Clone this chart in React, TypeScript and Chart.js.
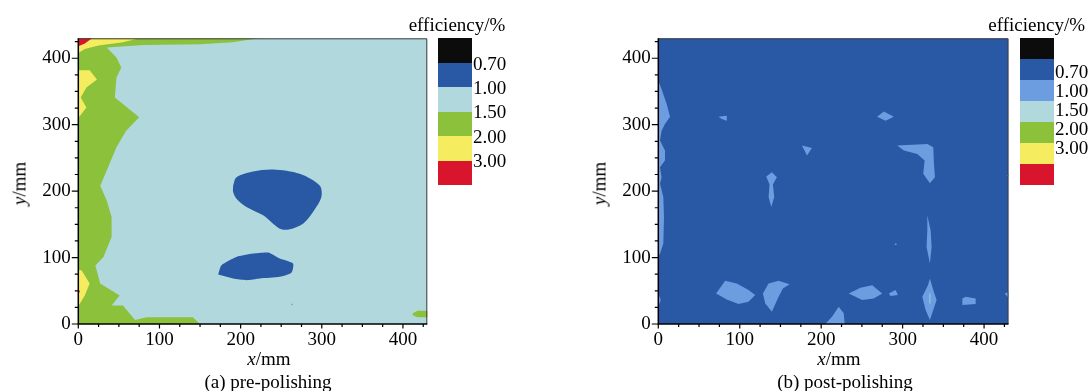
import React, { useEffect, useRef } from "react";
import { Chart, registerables } from "chart.js";

Chart.register(...registerables);

// ---------- axes ----------
const AXIS_MAX = 430;
const TICK_VALUES = [0, 100, 200, 300, 400];
const MINOR_STEP = 25;

// ---------- legend levels ----------
const LEVEL_LABELS = ["0.70", "1.00", "1.50", "2.00", "3.00"];

const C_BLACK = "#0c0c0c";
const C_DARK = "#2958a5";
const C_MED = "#6b9de0";
const C_PALE = "#b1d8dc";
const C_GREEN = "#8bc13b";
const C_YELLOW = "#f5ec60";
const C_RED = "#d8152d";

const LEGEND_A = [C_BLACK, C_DARK, C_PALE, C_GREEN, C_YELLOW, C_RED];
const LEGEND_B = [C_BLACK, C_DARK, C_MED, C_PALE, C_GREEN, C_YELLOW, C_RED];

// ---------- (a) pre-polishing contour regions, [x mm, y mm] ----------
const A_BASE = [[0, 0], [430, 0], [430, 430], [0, 430]];
const A_GREEN_LEFT = [
  [0, 430], [223, 430], [190, 424], [150, 421], [80, 420], [35, 416], [47, 401], [53, 386],
  [47, 371], [45, 341], [75, 311], [59, 291], [47, 266], [35, 231], [27, 208], [35, 186],
  [41, 161], [41, 131], [31, 101], [21, 88], [27, 61], [51, 43], [41, 28], [55, 28],
  [70, 6], [84, 10], [141, 10], [150, 0], [0, 0],
];
const A_GREEN_RIGHT = [[412, 16], [418, 20], [431, 20], [431, 10], [418, 10], [412, 13]];
const A_YELLOW_TOP = [[0, 431], [78, 431], [55, 424], [25, 419], [8, 414], [0, 408]];
const A_YELLOW_MID = [
  [0, 382], [14, 382], [23, 368], [10, 356], [3, 341], [10, 326], [2, 313], [0, 311],
];
const A_YELLOW_LOW = [[0, 81], [4, 81], [14, 61], [8, 43], [2, 31], [0, 28]];
const A_RED_TOP = [[0, 431], [18, 431], [8, 422], [0, 418]];
const A_RED_LOW = [[0, 53], [2, 49], [0, 45]];
const A_BLUE_UPPER = [
  [190.8, 208.5], [194.9, 221], [215.4, 229.5], [240, 232.5], [272.8, 226], [297.4, 208.5],
  [299.5, 191], [289.2, 168.5], [276.9, 151], [260.5, 142.5], [250.3, 142.5], [240, 151],
  [227.7, 163.5], [207.2, 176], [194.9, 188.5], [190.8, 198.5], [190.8, 208.5],
];
const A_BLUE_LOWER = [
  [172.3, 74.5], [176.4, 88.5], [194.9, 101], [215.4, 106], [233.8, 107.5], [248.2, 98.5],
  [264.6, 91], [262.6, 77], [248.2, 71], [223.6, 68.5], [207.2, 66], [190.8, 68.5],
];
const A_BLUE_DOT = [[262.5, 29.5], [263.4, 31], [264.3, 29.5], [263.4, 28]];

// ---------- (b) post-polishing contour regions ----------
const B_BASE = [[0, 0], [430, 0], [430, 430], [0, 430]];
const B_LEFT_STRIP = [
  [0, 366], [4.1, 353.5], [10.3, 331], [14.4, 312], [8.2, 301], [4.1, 291], [2.1, 276],
  [8.2, 261], [8.2, 246], [2.1, 236], [4.1, 221], [2.1, 211], [6.2, 191], [7, 161],
  [6.2, 121], [2.1, 106], [0, 101],
];
const B_LEFT_LOW = [[0, 46], [3, 36], [0, 26]];
const B_SPOT_1 = [[73.8, 312], [84.1, 313.5], [84.1, 306], [78, 308.5]];
const B_SPOT_2 = [[268.7, 312], [276.9, 320], [289.2, 312], [279, 306]];
const B_SPOT_3 = [[176.4, 268.5], [188.7, 265], [182.6, 253.5]];
const B_SPOT_4 = [
  [132.5, 222], [139.5, 228.5], [145.6, 221], [140.7, 210], [142.4, 191], [138.7, 176],
  [135.4, 191], [136.6, 210],
];
const B_SPOT_5 = [
  [293.3, 268.5], [330.3, 271], [337.6, 266], [338.5, 241], [339.7, 221], [333.5, 212],
  [325.3, 226], [327, 246], [318, 256], [301.5, 261],
];
const B_SPOT_6 = [
  [330.3, 163.5], [334.4, 141], [335.6, 116], [333.5, 91], [329.4, 116], [330.3, 141],
];
const B_SPOT_7 = [[290, 120], [291.5, 121.5], [293, 120], [291.5, 118.5]];
const B_SPOT_8 = [
  [71, 46], [82.1, 65], [96.4, 61], [110.8, 51], [119, 43.5], [110.8, 33.5], [98.5, 30], [84.1, 37],
];
const B_SPOT_9 = [
  [128.4, 46], [135.4, 61], [147.7, 65], [161.2, 60], [153, 53.5], [147.7, 41], [139.5, 18.5],
  [131.3, 31],
];
const B_SPOT_10 = [[205.1, 0], [213.3, 11], [221.5, 26], [227.7, 16], [228.9, 0]];
const B_SPOT_11 = [
  [233.8, 46], [248.2, 54.5], [262.6, 58.5], [274.9, 46], [264.6, 38.5], [250.3, 36],
];
const B_SPOT_12 = [[283.1, 46], [291.3, 51], [294.2, 43.5], [285.1, 42]];
const B_SPOT_13 = [
  [324.1, 41], [331.1, 58.5], [333.5, 68.5], [337.6, 51], [341.7, 36], [337.6, 21],
  [333.5, 6], [328.2, 21],
];
const B_SPOT_14 = [[373.3, 38.5], [377.4, 41], [389.7, 38.5], [389.7, 30], [373.3, 28.5]];
const B_SPOT_15 = [[425.4, 46], [431, 48.5], [431, 38.5], [428.7, 41]];
const B_SPOT_16 = [[427.5, 223.5], [431, 225], [431, 222]];
const B_PALE_LINE = [[333, 46], [334, 46], [334, 31], [333, 31]];

type Region = { color: string; pts: number[][]; smooth?: number };

const REGIONS_A: Region[] = [
  { color: C_PALE, pts: A_BASE },
  { color: C_GREEN, pts: A_GREEN_LEFT },
  { color: C_GREEN, pts: A_GREEN_RIGHT },
  { color: C_YELLOW, pts: A_YELLOW_TOP },
  { color: C_YELLOW, pts: A_YELLOW_MID },
  { color: C_YELLOW, pts: A_YELLOW_LOW },
  { color: C_RED, pts: A_RED_TOP },
  { color: C_RED, pts: A_RED_LOW },
  { color: C_DARK, pts: A_BLUE_UPPER, smooth: 0.3 },
  { color: C_DARK, pts: A_BLUE_LOWER, smooth: 0.2 },
  { color: C_DARK, pts: A_BLUE_DOT },
];

const REGIONS_B: Region[] = [
  { color: C_DARK, pts: B_BASE },
  ...[
    B_LEFT_STRIP, B_LEFT_LOW, B_SPOT_1, B_SPOT_2, B_SPOT_3, B_SPOT_4, B_SPOT_5, B_SPOT_6,
    B_SPOT_7, B_SPOT_8, B_SPOT_9, B_SPOT_10, B_SPOT_11, B_SPOT_12, B_SPOT_13, B_SPOT_14,
    B_SPOT_15, B_SPOT_16,
  ].map((pts) => ({ color: C_MED, pts })),
  { color: C_PALE, pts: B_PALE_LINE },
];

const FONT = "'Liberation Serif', 'Times New Roman', serif";

const axisDecor = {
  id: "axisDecor",
  afterDatasetsDraw(chart: any) {
    const { ctx, chartArea: a, scales } = chart;
    const xs = scales.x;
    const ys = scales.y;
    ctx.save();
    // top & right frame
    ctx.strokeStyle = "#3c3c3c";
    ctx.lineWidth = 1;
    ctx.beginPath();
    ctx.moveTo(a.left, a.top + 0.5);
    ctx.lineTo(a.right - 0.5, a.top + 0.5);
    ctx.lineTo(a.right - 0.5, a.bottom);
    ctx.stroke();
    // axes
    ctx.strokeStyle = "#000";
    ctx.lineWidth = 1.5;
    ctx.beginPath();
    ctx.moveTo(a.left, a.top);
    ctx.lineTo(a.left, a.bottom);
    ctx.lineTo(a.right, a.bottom);
    ctx.stroke();
    // ticks
    ctx.lineWidth = 1.2;
    ctx.beginPath();
    for (let v = 0; v <= AXIS_MAX; v += MINOR_STEP) {
      const major = TICK_VALUES.includes(v);
      const px = xs.getPixelForValue(v);
      ctx.moveTo(px, a.bottom);
      ctx.lineTo(px, a.bottom + (major ? 4.5 : 3));
      const py = ys.getPixelForValue(v);
      ctx.moveTo(a.left, py);
      ctx.lineTo(a.left - (major ? 6.5 : 3.5), py);
    }
    ctx.stroke();
    ctx.restore();
  },
};

function ContourPanel({ regions, rightPad }: { regions: Region[]; rightPad: number }) {
  const ref = useRef<HTMLCanvasElement | null>(null);
  useEffect(() => {
    if (!ref.current) return;
    const n = regions.length;
    const chart = new Chart(ref.current, {
      type: "line",
      data: {
        datasets: regions.map((r, i) => ({
          data: r.pts.map(([x, y]) => ({ x, y })),
          fill: "shape",
          backgroundColor: r.color,
          borderColor: "rgba(0,0,0,0)",
          borderWidth: 0,
          pointRadius: 0,
          pointHoverRadius: 0,
          tension: r.smooth || 0,
          cubicInterpolationMode: "default",
          order: n - i,
        })),
      },
      options: {
        responsive: false,
        animation: false,
        events: [],
        layout: { padding: { left: 0, right: rightPad, top: 38.3, bottom: 37 } },
        plugins: { legend: { display: false }, tooltip: { enabled: false } },
        scales: {
          x: {
            type: "linear",
            min: 0,
            max: AXIS_MAX,
            grid: { display: false, drawTicks: false },
            border: { display: false },
            afterFit: (s: any) => {
              s.height = 30;
            },
            afterBuildTicks: (s: any) => {
              s.ticks = TICK_VALUES.map((value) => ({ value }));
            },
            ticks: {
              padding: 5,
              maxRotation: 0,
              color: "#000",
              font: { family: FONT, size: 19 },
            },
          },
          y: {
            type: "linear",
            min: 0,
            max: AXIS_MAX,
            grid: { display: false, drawTicks: false },
            border: { display: false },
            afterFit: (s: any) => {
              s.width = 78.3;
            },
            afterBuildTicks: (s: any) => {
              s.ticks = TICK_VALUES.map((value) => ({ value }));
            },
            ticks: {
              padding: 7.5,
              color: "#000",
              font: { family: FONT, size: 19 },
            },
          },
        },
      },
      plugins: [axisDecor],
    } as any);
    return () => chart.destroy();
  }, [regions, rightPad]);
  return <canvas ref={ref} width={440} height={391} style={{ display: "block" }} />;
}

function Txt({ x, y, children, rotate, align = "center" }: any) {
  const tx = align === "center" ? "-50%" : "0";
  return (
    <div
      style={{
        position: "absolute",
        left: x,
        top: y - 9.5,
        fontFamily: FONT,
        fontSize: 19,
        lineHeight: "19px",
        whiteSpace: "nowrap",
        color: "#000",
        transform: rotate ? `translate(-50%, 0) rotate(-90deg)` : `translateX(${tx})`,
        transformOrigin: "50% 50%",
      }}
    >
      {children}
    </div>
  );
}

function ColorBar({ left, colors, labelYs, labelX }: any) {
  const h = 146.7 / colors.length;
  return (
    <>
      {colors.map((c: string, i: number) => (
        <div
          key={i}
          style={{
            position: "absolute",
            left,
            top: 38.3 + i * h,
            width: 34,
            height: h + 0.3,
            background: c,
          }}
        />
      ))}
      {LEVEL_LABELS.map((t, i) => (
        <Txt key={t} x={labelX} y={labelYs[i]} align="left">
          {t}
        </Txt>
      ))}
    </>
  );
}

const LABEL_Y_A = [63, 87.5, 111.5, 136, 160.5];
const LABEL_Y_B = [71.7, 90, 109.3, 128.3, 147.3];

export default function App() {
  return (
    <div
      style={{
        position: "absolute",
        left: 0,
        top: 0,
        width: 1091,
        height: 391,
        background: "#fff",
        overflow: "hidden",
      }}
    >
      <div style={{ position: "absolute", left: 0, top: 0 }}>
        <ContourPanel regions={REGIONS_A} rightPad={12.7} />
      </div>
      <div style={{ position: "absolute", left: 580, top: 0 }}>
        <ContourPanel regions={REGIONS_B} rightPad={11.5} />
      </div>

      <Txt x={18.5} y={183} rotate>
        <i>y</i>/mm
      </Txt>
      <Txt x={598.5} y={183} rotate>
        <i>y</i>/mm
      </Txt>
      <Txt x={269} y={358}>
        <i>x</i>/mm
      </Txt>
      <Txt x={839} y={358}>
        <i>x</i>/mm
      </Txt>
      <Txt x={268} y={381}>(a) pre-polishing</Txt>
      <Txt x={845} y={381}>(b) post-polishing</Txt>

      <Txt x={457} y={24.5}>efficiency/%</Txt>
      <Txt x={1036.7} y={24.5}>efficiency/%</Txt>

      <ColorBar left={438} colors={LEGEND_A} labelYs={LABEL_Y_A} labelX={473} />
      <ColorBar left={1020} colors={LEGEND_B} labelYs={LABEL_Y_B} labelX={1055} />
    </div>
  );
}
